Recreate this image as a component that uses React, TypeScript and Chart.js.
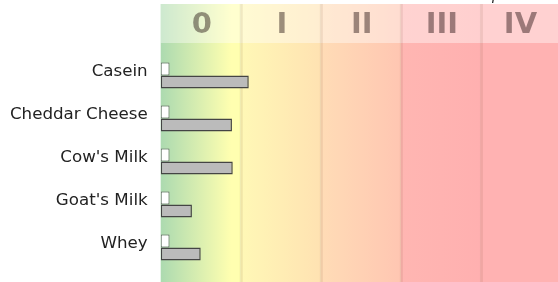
import React, { useEffect, useRef } from 'react';
import { Chart, registerables } from 'chart.js';

Chart.register(...registerables);

const categories = ['Casein', 'Cheddar Cheese', "Cow's Milk", "Goat's Milk", 'Whey'];
const seriesWhite = [0.11, 0.11, 0.11, 0.11, 0.11];
const seriesGray = [1.1, 0.89, 0.9, 0.39, 0.5];
const zoneLabels = ['0', 'I', 'II', 'III', 'IV'];
const zoneBounds = [0, 1, 2, 3, 4, 5];
const zoneColors = [
  ['#acdab0', '#ffffb0'],
  ['#fff8b6', '#ffe2b2'],
  ['#ffdcb6', '#ffc6b2'],
  ['#ffb6b2', '#ffb0b0'],
  ['#ffb2b2', '#ffb2b2'],
];
const topText = 'p';

const zonePlugin = {
  id: 'zones',
  beforeDatasetsDraw(chart: any) {
    const { ctx, chartArea, scales } = chart;
    const xs = scales.x;
    const H = chart.height;
    const top = 4;
    const headerBottom = 43;
    ctx.save();
    for (let i = 0; i < zoneLabels.length; i++) {
      const x0 = xs.getPixelForValue(zoneBounds[i]);
      const x1 = xs.getPixelForValue(zoneBounds[i + 1]);
      const g = ctx.createLinearGradient(x0, 0, x1, 0);
      g.addColorStop(0, zoneColors[i][0]);
      if (i === 0) g.addColorStop(0.88, zoneColors[i][1]);
      g.addColorStop(1, zoneColors[i][1]);
      ctx.fillStyle = g;
      ctx.fillRect(x0, top, x1 - x0, H - top);
    }
    ctx.fillStyle = 'rgba(255,255,255,0.4)';
    ctx.fillRect(chartArea.left, top, chartArea.right - chartArea.left, headerBottom - top);
    for (let i = 1; i < zoneLabels.length; i++) {
      const x = xs.getPixelForValue(zoneBounds[i]);
      ctx.fillStyle = 'rgba(110,70,40,0.1)';
      ctx.fillRect(x - 1, top, 3, H - top);
    }
    ctx.fillStyle = 'rgba(20,0,0,0.42)';
    ctx.font = 'bold 29px "DejaVu Sans"';
    ctx.textAlign = 'center';
    ctx.textBaseline = 'middle';
    for (let i = 0; i < zoneLabels.length; i++) {
      const x0 = xs.getPixelForValue(zoneBounds[i]);
      const x1 = Math.min(xs.getPixelForValue(zoneBounds[i + 1]), 558);
      ctx.fillText(zoneLabels[i], (x0 + x1) / 2 + 1, 25);
    }
    ctx.fillStyle = '#222';
    ctx.font = 'italic 14px "DejaVu Sans"';
    ctx.textAlign = 'left';
    ctx.textBaseline = 'alphabetic';
    ctx.fillText(topText, 492, 0);
    ctx.restore();
  },
};

export default function App() {
  const ref = useRef<HTMLCanvasElement>(null);
  useEffect(() => {
    if (!ref.current) return;
    const chart = new Chart(ref.current, {
      type: 'bar',
      data: {
        labels: categories,
        datasets: [
          {
            data: seriesWhite,
            backgroundColor: '#ffffff',
            borderColor: '#555555',
            borderWidth: 1,
            borderSkipped: false,
            categoryPercentage: 0.6,
            barPercentage: 1,
          },
          {
            data: seriesGray,
            backgroundColor: '#bbbbbb',
            borderColor: '#444444',
            borderWidth: 1.5,
            borderSkipped: false,
            categoryPercentage: 0.6,
            barPercentage: 1,
          },
        ],
      },
      options: {
        indexAxis: 'y',
        responsive: false,
        animation: false,
        layout: { padding: { left: 10, top: 54, bottom: 13, right: 0 } },
        scales: {
          x: { display: false, min: 0, max: 5 },
          y: {
            grid: { display: false, drawTicks: false },
            border: { display: false },
            afterFit: (s: any) => {
              s.width = 150.7;
              s.paddingTop = 0;
              s.paddingBottom = 0;
            },
            ticks: {
              color: '#222',
              font: { family: 'DejaVu Sans', size: 16.7 },
              padding: 13,
              labelOffset: -4,
            },
          },
        },
        plugins: { legend: { display: false }, tooltip: { enabled: false } },
      },
      plugins: [zonePlugin],
    } as any);
    return () => chart.destroy();
  }, []);
  return (
    <div style={{ position: 'fixed', left: 0, top: 0, width: 558, height: 282, overflow: 'hidden', background: '#fff' }}>
      <canvas ref={ref} width={561} height={282} style={{ display: 'block', width: 561, height: 282 }} />
    </div>
  );
}
